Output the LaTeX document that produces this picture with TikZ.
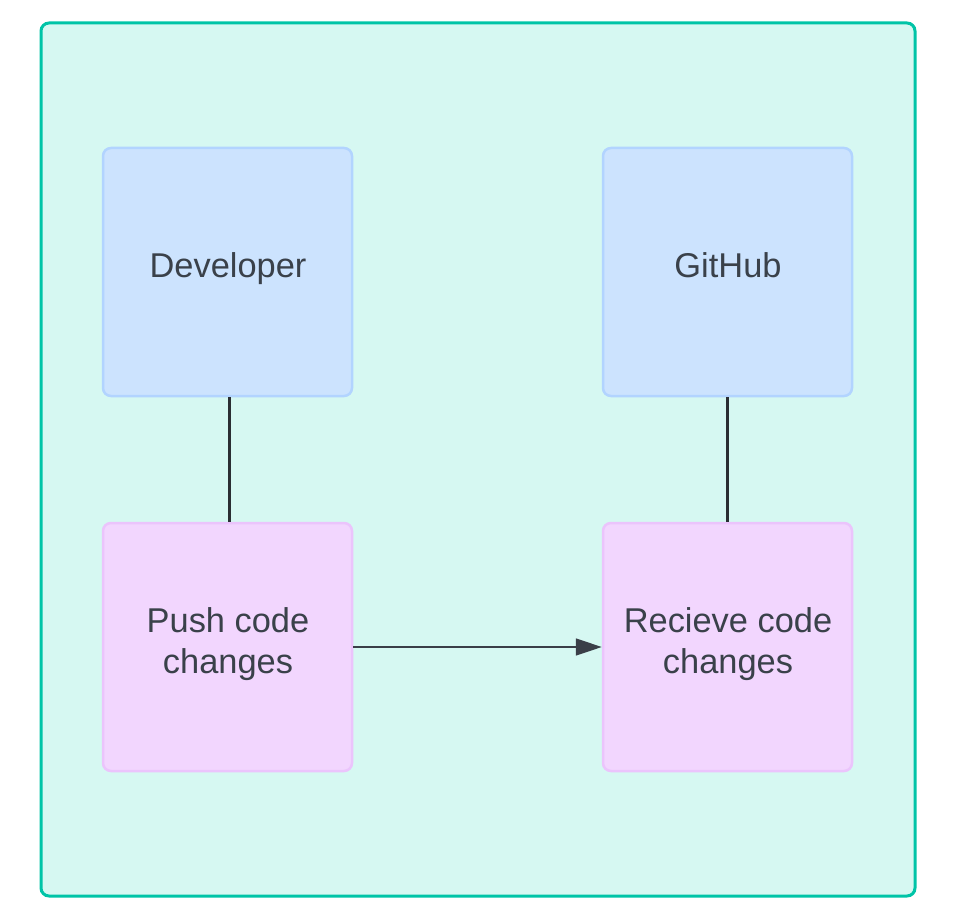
\documentclass[tikz,border=0pt]{standalone}
\usepackage{fontspec}
\setmainfont{Liberation Sans}
\usetikzlibrary{arrows.meta}
\definecolor{contfill}{HTML}{D6F8F2}
\definecolor{contdraw}{HTML}{00C4A7}
\definecolor{bluefill}{HTML}{CCE3FE}
\definecolor{bluedraw}{HTML}{B2D4FF}
\definecolor{pinkfill}{HTML}{F2D6FE}
\definecolor{pinkdraw}{HTML}{EBC4FC}
\definecolor{linecol}{HTML}{2A2E33}
\definecolor{arrowcol}{HTML}{3A3F48}
\definecolor{textcol}{HTML}{3A414A}
\tikzset{
  container/.style={draw=contdraw, fill=contfill, line width=3pt, rounded corners=8pt},
  box/.style={minimum width=249pt, minimum height=248pt, line width=2.5pt, rounded corners=8pt, inner sep=0pt},
  bluebox/.style={box, draw=bluedraw, fill=bluefill},
  pinkbox/.style={box, draw=pinkdraw, fill=pinkfill},
  label/.style={align=center, text=textcol, inner sep=0pt, font=\fontsize{34.4pt}{41pt}\selectfont},
  link/.style={draw=linecol, line width=3pt},
  flow/.style={draw=arrowcol, line width=1.5pt, -{Triangle[length=26pt, width=17pt]}}
}
\begin{document}
\begin{tikzpicture}[x=1pt, y=-1pt]
\useasboundingbox (0,0) rectangle (958,920);
\fill[white] (0,0) rectangle (958,920);
\draw[container] (41,23) rectangle (915,896);
\node[bluebox] (dev) at (227.5,272) {};
\node[bluebox] (gh) at (727.5,272) {};
\node[pinkbox] (push) at (227.5,647) {};
\node[pinkbox] (recv) at (727.5,647) {};
\node[label] (devt) at (228,269.5) {\strut Developer};
\node[label] (ght) at (728,269.5) {\strut GitHub};
\node[label] (pusht) at (228,644.5) {\strut Push code\\\strut changes};
\node[label] (recvt) at (728,644.5) {\strut Recieve code\\\strut changes};
\draw[link] ([xshift=2pt]dev.south) -- ([xshift=2pt]push.north);
\draw[link] (gh.south) -- (recv.north);
\draw[flow] (push.east) -- (recv.west);
\end{tikzpicture}
\end{document}
